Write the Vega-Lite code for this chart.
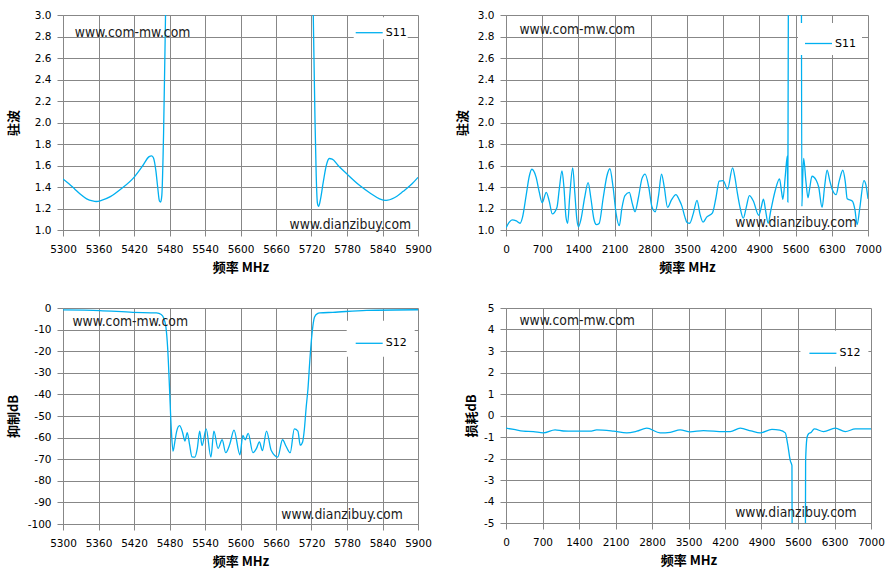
{
  "$schema": "https://vega.github.io/schema/vega-lite/v6.json",
  "background": "white",
  "padding": {"left": 7, "top": 10, "right": 5, "bottom": 5},
  "columns": 2,
  "spacing": {"row": 78, "column": 88},
  "bounds": "flush",
  "align": "each",
  "resolve": {"scale": {"color": "independent"}, "legend": {"color": "independent"}},
  "config": {
    "view": {"stroke": null},
    "axis": {
      "gridColor": "#878787", "gridOpacity": 1, "gridWidth": 1,
      "domainColor": "#878787", "tickColor": "#878787", "tickSize": 6, "tickCount": 30,
      "labelFont": "DejaVu Sans", "labelFontSize": 10.5, "labelColor": "#000", "labelPadding": 6,
      "labelFlush": false, "labelOverlap": false,
      "titleFont": "Noto Sans CJK SC", "titleFontWeight": "bold", "titleFontSize": 13, "titleColor": "#000"
    },
    "axisX": {"titleY": 37, "titleBaseline": "middle", "format": "d", "labelPadding": 8},
    "axisY": {"titleAlign": "center", "titleBaseline": "middle", "titleY": 107.5},
    "legend": {
      "orient": "none", "labelFont": "DejaVu Sans", "labelFontSize": 11, "labelColor": "#000",
      "symbolType": "stroke", "symbolSize": 729, "symbolStrokeWidth": 1.3,
      "fillColor": "white", "labelOffset": 2
    },
    "line": {"color": "#00B0F0", "strokeWidth": 1.3, "interpolate": "monotone"},
    "text": {"font": "DejaVu Sans Condensed, DejaVu Sans", "fontSize": 13.8, "color": "#1a1a1a", "align": "left", "baseline": "middle"}
  },
  "datasets": {
    "a": [
      {"f": 5300, "v": 1.475}, {"f": 5310, "v": 1.43}, {"f": 5320, "v": 1.38}, {"f": 5330, "v": 1.33},
      {"f": 5340, "v": 1.29}, {"f": 5350, "v": 1.27}, {"f": 5356, "v": 1.265}, {"f": 5365, "v": 1.275},
      {"f": 5380, "v": 1.31}, {"f": 5400, "v": 1.39}, {"f": 5420, "v": 1.49}, {"f": 5435, "v": 1.6},
      {"f": 5445, "v": 1.68}, {"f": 5450, "v": 1.69}, {"f": 5453, "v": 1.67}, {"f": 5457, "v": 1.55},
      {"f": 5460, "v": 1.4}, {"f": 5463, "v": 1.27}, {"f": 5465, "v": 1.26}, {"f": 5467, "v": 1.32},
      {"f": 5470, "v": 1.9}, {"f": 5473, "v": 2.9}, {"f": 5476, "v": 4.0}, {"f": 5480, "v": 6},
      {"f": 5600, "v": 30}, {"f": 5715, "v": 6}, {"f": 5720, "v": 4}, {"f": 5723, "v": 3.0},
      {"f": 5726, "v": 2.0}, {"f": 5728, "v": 1.5}, {"f": 5730, "v": 1.25}, {"f": 5732, "v": 1.22},
      {"f": 5735, "v": 1.28}, {"f": 5740, "v": 1.45}, {"f": 5745, "v": 1.6}, {"f": 5750, "v": 1.665},
      {"f": 5755, "v": 1.66}, {"f": 5765, "v": 1.6}, {"f": 5780, "v": 1.52}, {"f": 5800, "v": 1.42},
      {"f": 5820, "v": 1.34}, {"f": 5835, "v": 1.29}, {"f": 5846, "v": 1.275}, {"f": 5860, "v": 1.3},
      {"f": 5875, "v": 1.36}, {"f": 5890, "v": 1.43}, {"f": 5900, "v": 1.49}
    ],
    "b": [
      {"f": 0, "v": 1.02}, {"f": 60, "v": 1.07}, {"f": 117, "v": 1.095}, {"f": 200, "v": 1.085},
      {"f": 272, "v": 1.063}, {"f": 320, "v": 1.12}, {"f": 389, "v": 1.32}, {"f": 450, "v": 1.5},
      {"f": 499, "v": 1.565}, {"f": 583, "v": 1.49}, {"f": 640, "v": 1.36}, {"f": 700, "v": 1.254},
      {"f": 778, "v": 1.35}, {"f": 840, "v": 1.26}, {"f": 894, "v": 1.15}, {"f": 985, "v": 1.21},
      {"f": 1030, "v": 1.38}, {"f": 1082, "v": 1.55}, {"f": 1120, "v": 1.4}, {"f": 1160, "v": 1.12},
      {"f": 1193, "v": 1.063}, {"f": 1230, "v": 1.3}, {"f": 1290, "v": 1.578}, {"f": 1330, "v": 1.35},
      {"f": 1370, "v": 1.1}, {"f": 1400, "v": 1.03}, {"f": 1450, "v": 1.1}, {"f": 1520, "v": 1.3},
      {"f": 1588, "v": 1.44}, {"f": 1640, "v": 1.3}, {"f": 1700, "v": 1.1}, {"f": 1750, "v": 1.05},
      {"f": 1800, "v": 1.06}, {"f": 1880, "v": 1.3}, {"f": 1950, "v": 1.5}, {"f": 2009, "v": 1.57},
      {"f": 2070, "v": 1.4}, {"f": 2130, "v": 1.15}, {"f": 2191, "v": 1.04}, {"f": 2240, "v": 1.2},
      {"f": 2300, "v": 1.32}, {"f": 2385, "v": 1.35}, {"f": 2440, "v": 1.25}, {"f": 2495, "v": 1.17},
      {"f": 2560, "v": 1.3}, {"f": 2630, "v": 1.48}, {"f": 2690, "v": 1.52}, {"f": 2760, "v": 1.4},
      {"f": 2820, "v": 1.22}, {"f": 2885, "v": 1.17}, {"f": 2950, "v": 1.32}, {"f": 3007, "v": 1.52},
      {"f": 3060, "v": 1.4}, {"f": 3124, "v": 1.21}, {"f": 3200, "v": 1.28}, {"f": 3286, "v": 1.33},
      {"f": 3350, "v": 1.28}, {"f": 3403, "v": 1.22}, {"f": 3460, "v": 1.12}, {"f": 3500, "v": 1.07},
      {"f": 3552, "v": 1.063}, {"f": 3620, "v": 1.15}, {"f": 3694, "v": 1.276}, {"f": 3750, "v": 1.15},
      {"f": 3811, "v": 1.073}, {"f": 3880, "v": 1.12}, {"f": 3993, "v": 1.16}, {"f": 4060, "v": 1.3},
      {"f": 4122, "v": 1.454}, {"f": 4200, "v": 1.46}, {"f": 4284, "v": 1.38}, {"f": 4381, "v": 1.578},
      {"f": 4430, "v": 1.48}, {"f": 4472, "v": 1.35}, {"f": 4530, "v": 1.2}, {"f": 4589, "v": 1.11},
      {"f": 4650, "v": 1.22}, {"f": 4706, "v": 1.32}, {"f": 4783, "v": 1.27}, {"f": 4887, "v": 1.137},
      {"f": 4930, "v": 1.2}, {"f": 4978, "v": 1.286}, {"f": 5020, "v": 1.18}, {"f": 5069, "v": 1.063},
      {"f": 5120, "v": 1.18}, {"f": 5205, "v": 1.365}, {"f": 5289, "v": 1.476}, {"f": 5330, "v": 1.35},
      {"f": 5354, "v": 1.286}, {"f": 5400, "v": 1.5}, {"f": 5440, "v": 1.69}, {"f": 5450, "v": 1.26},
      {"f": 5462, "v": 3.5}, {"f": 5470, "v": 30}, {"f": 5700, "v": 30}, {"f": 5712, "v": 3.5},
      {"f": 5722, "v": 1.22}, {"f": 5735, "v": 1.45}, {"f": 5756, "v": 1.667}, {"f": 5800, "v": 1.45},
      {"f": 5840, "v": 1.3}, {"f": 5870, "v": 1.38}, {"f": 5917, "v": 1.5}, {"f": 6001, "v": 1.46},
      {"f": 6046, "v": 1.4}, {"f": 6112, "v": 1.21}, {"f": 6160, "v": 1.4}, {"f": 6209, "v": 1.556},
      {"f": 6260, "v": 1.46}, {"f": 6307, "v": 1.38}, {"f": 6384, "v": 1.33}, {"f": 6440, "v": 1.45},
      {"f": 6514, "v": 1.556}, {"f": 6560, "v": 1.45}, {"f": 6598, "v": 1.29}, {"f": 6695, "v": 1.27},
      {"f": 6747, "v": 1.19}, {"f": 6790, "v": 1.05}, {"f": 6840, "v": 1.2}, {"f": 6922, "v": 1.46},
      {"f": 6960, "v": 1.42}, {"f": 7000, "v": 1.29}
    ],
    "c": [
      {"f": 5300, "v": -0.9}, {"f": 5362, "v": -1.2}, {"f": 5418, "v": -2.0}, {"f": 5458, "v": -2.3},
      {"f": 5466, "v": -3.0}, {"f": 5470, "v": -4.5}, {"f": 5474, "v": -9}, {"f": 5477, "v": -19},
      {"f": 5480, "v": -37}, {"f": 5483, "v": -56}, {"f": 5486, "v": -66.3}, {"f": 5489, "v": -62},
      {"f": 5492, "v": -57.2}, {"f": 5497, "v": -54.5}, {"f": 5502, "v": -57.5}, {"f": 5506, "v": -61.6},
      {"f": 5510, "v": -57.7}, {"f": 5514, "v": -63.4}, {"f": 5518, "v": -68.9}, {"f": 5523, "v": -69},
      {"f": 5527, "v": -65}, {"f": 5531, "v": -57}, {"f": 5535, "v": -63.7}, {"f": 5542, "v": -56},
      {"f": 5550, "v": -69}, {"f": 5555, "v": -57}, {"f": 5562, "v": -65}, {"f": 5569, "v": -61},
      {"f": 5575, "v": -67}, {"f": 5582, "v": -63}, {"f": 5589, "v": -56.5}, {"f": 5599, "v": -68},
      {"f": 5604, "v": -59}, {"f": 5608, "v": -61}, {"f": 5613, "v": -58}, {"f": 5621, "v": -67},
      {"f": 5627, "v": -65}, {"f": 5632, "v": -62}, {"f": 5637, "v": -66}, {"f": 5644, "v": -57},
      {"f": 5652, "v": -66}, {"f": 5663, "v": -69}, {"f": 5671, "v": -61}, {"f": 5677, "v": -64},
      {"f": 5684, "v": -67}, {"f": 5691, "v": -56}, {"f": 5697, "v": -57}, {"f": 5701, "v": -63.5},
      {"f": 5705, "v": -62}, {"f": 5708, "v": -56}, {"f": 5711, "v": -46}, {"f": 5714, "v": -37.5},
      {"f": 5717, "v": -25}, {"f": 5720, "v": -14.4}, {"f": 5723, "v": -7}, {"f": 5725, "v": -4.3},
      {"f": 5730, "v": -2.6}, {"f": 5734, "v": -2.3}, {"f": 5756, "v": -2.0}, {"f": 5813, "v": -1.1},
      {"f": 5900, "v": -0.8}
    ],
    "d": [
      {"f": 0, "v": -0.59}, {"f": 150, "v": -0.65}, {"f": 332, "v": -0.73}, {"f": 525, "v": -0.75},
      {"f": 717, "v": -0.81}, {"f": 941, "v": -0.67}, {"f": 1100, "v": -0.72}, {"f": 1292, "v": -0.73},
      {"f": 1612, "v": -0.73}, {"f": 1740, "v": -0.67}, {"f": 2060, "v": -0.73}, {"f": 2316, "v": -0.81},
      {"f": 2508, "v": -0.73}, {"f": 2700, "v": -0.59}, {"f": 2956, "v": -0.81}, {"f": 3150, "v": -0.78},
      {"f": 3340, "v": -0.67}, {"f": 3532, "v": -0.76}, {"f": 3788, "v": -0.7}, {"f": 4172, "v": -0.75},
      {"f": 4300, "v": -0.75}, {"f": 4492, "v": -0.59}, {"f": 4700, "v": -0.72}, {"f": 4876, "v": -0.81},
      {"f": 5100, "v": -0.65}, {"f": 5250, "v": -0.68}, {"f": 5356, "v": -0.81}, {"f": 5401, "v": -1.32},
      {"f": 5452, "v": -2.1}, {"f": 5484, "v": -2.33}, {"f": 5490, "v": -8}, {"f": 5500, "v": -60},
      {"f": 5720, "v": -60}, {"f": 5740, "v": -8}, {"f": 5746, "v": -2.1}, {"f": 5775, "v": -1.0},
      {"f": 5803, "v": -0.85}, {"f": 5855, "v": -0.78}, {"f": 5912, "v": -0.62}, {"f": 6091, "v": -0.75},
      {"f": 6315, "v": -0.59}, {"f": 6507, "v": -0.75}, {"f": 6700, "v": -0.62}, {"f": 7000, "v": -0.62}
    ],
    "na": [{"f": 5320, "v": 2.836, "t": "www.com-mw.com"}, {"f": 5683, "v": 1.043, "t": "www.dianzibuy.com"}],
    "nb": [{"f": 260, "v": 2.863, "t": "www.com-mw.com"}, {"f": 4435, "v": 1.063, "t": "www.dianzibuy.com"}],
    "nc": [{"f": 5316, "v": -6.6, "t": "www.com-mw.com"}, {"f": 5669, "v": -95.8, "t": "www.dianzibuy.com"}],
    "nd": [{"f": 257, "v": 4.39, "t": "www.com-mw.com"}, {"f": 4395, "v": -4.55, "t": "www.dianzibuy.com"}]
  },
  "concat": [
    {
      "width": 355, "height": 215,
      "layer": [
        {
          "data": {"name": "a"},
          "mark": {"type": "line", "clip": true},
          "encoding": {
            "x": {"field": "f", "type": "quantitative", "scale": {"domain": [5300, 5900], "nice": false, "zero": false},
                  "axis": {"title": "频率 MHz", "values": [5300, 5360, 5420, 5480, 5540, 5600, 5660, 5720, 5780, 5840, 5900]}},
            "y": {"field": "v", "type": "quantitative", "scale": {"domain": [1, 3], "nice": false, "zero": false},
                  "axis": {"title": "驻波", "titleX": -50, "format": ".1f", "values": [1, 1.2, 1.4, 1.6, 1.8, 2, 2.2, 2.4, 2.6, 2.8, 3]}},
            "color": {"datum": "S11", "type": "nominal", "scale": {"range": ["#00B0F0"]},
                      "legend": {"title": null, "padding": 1, "legendX": 290.7, "legendY": 2.2}}
          }
        },
        {
          "data": {"name": "na"},
          "mark": "text",
          "encoding": {
            "x": {"field": "f", "type": "quantitative"},
            "y": {"field": "v", "type": "quantitative"},
            "text": {"field": "t"}
          }
        }
      ]
    },
    {
      "width": 362, "height": 215,
      "layer": [
        {
          "data": {"name": "b"},
          "mark": {"type": "line", "clip": true},
          "encoding": {
            "x": {"field": "f", "type": "quantitative", "scale": {"domain": [0, 7000], "nice": false, "zero": false},
                  "axis": {"title": "频率 MHz", "values": [0, 700, 1400, 2100, 2800, 3500, 4200, 4900, 5600, 6300, 7000]}},
            "y": {"field": "v", "type": "quantitative", "scale": {"domain": [1, 3], "nice": false, "zero": false},
                  "axis": {"title": "驻波", "titleX": -44, "format": ".1f", "values": [1, 1.2, 1.4, 1.6, 1.8, 2, 2.2, 2.4, 2.6, 2.8, 3]}},
            "color": {"datum": "S11", "type": "nominal", "scale": {"range": ["#00B0F0"]},
                      "legend": {"title": null, "padding": 6, "legendX": 292, "legendY": 8}}
          }
        },
        {
          "data": {"name": "nb"},
          "mark": "text",
          "encoding": {
            "x": {"field": "f", "type": "quantitative"},
            "y": {"field": "v", "type": "quantitative"},
            "text": {"field": "t"}
          }
        }
      ]
    },
    {
      "width": 355, "height": 216,
      "layer": [
        {
          "data": {"name": "c"},
          "mark": {"type": "line", "clip": true},
          "encoding": {
            "x": {"field": "f", "type": "quantitative", "scale": {"domain": [5300, 5900], "nice": false, "zero": false},
                  "axis": {"title": "频率 MHz", "values": [5300, 5360, 5420, 5480, 5540, 5600, 5660, 5720, 5780, 5840, 5900]}},
            "y": {"field": "v", "type": "quantitative", "scale": {"domain": [-100, 0], "nice": false, "zero": false},
                  "axis": {"title": "抑制dB", "titleX": -50, "titleY": 108, "labelExpr": "'' + datum.value", "values": [-100, -90, -80, -70, -60, -50, -40, -30, -20, -10, 0]}},
            "color": {"datum": "S12", "type": "nominal", "scale": {"range": ["#00B0F0"]},
                      "legend": {"title": null, "padding": 8, "legendX": 283.7, "legendY": 12.8}}
          }
        },
        {
          "data": {"name": "nc"},
          "mark": "text",
          "encoding": {
            "x": {"field": "f", "type": "quantitative"},
            "y": {"field": "v", "type": "quantitative"},
            "text": {"field": "t"}
          }
        }
      ]
    },
    {
      "width": 365, "height": 215,
      "layer": [
        {
          "data": {"name": "d"},
          "mark": {"type": "line", "clip": true},
          "encoding": {
            "x": {"field": "f", "type": "quantitative", "scale": {"domain": [0, 7000], "nice": false, "zero": false},
                  "axis": {"title": "频率 MHz", "values": [0, 700, 1400, 2100, 2800, 3500, 4200, 4900, 5600, 6300, 7000]}},
            "y": {"field": "v", "type": "quantitative", "scale": {"domain": [-5, 5], "nice": false, "zero": false},
                  "axis": {"title": "损耗dB", "titleX": -35, "labelExpr": "'' + datum.value", "values": [-5, -4, -3, -2, -1, 0, 1, 2, 3, 4, 5]}},
            "color": {"datum": "S12", "type": "nominal", "scale": {"range": ["#00B0F0"]},
                      "legend": {"title": null, "padding": 8, "legendX": 294.4, "legendY": 22.8}}
          }
        },
        {
          "data": {"name": "nd"},
          "mark": "text",
          "encoding": {
            "x": {"field": "f", "type": "quantitative"},
            "y": {"field": "v", "type": "quantitative"},
            "text": {"field": "t"}
          }
        }
      ]
    }
  ]
}
